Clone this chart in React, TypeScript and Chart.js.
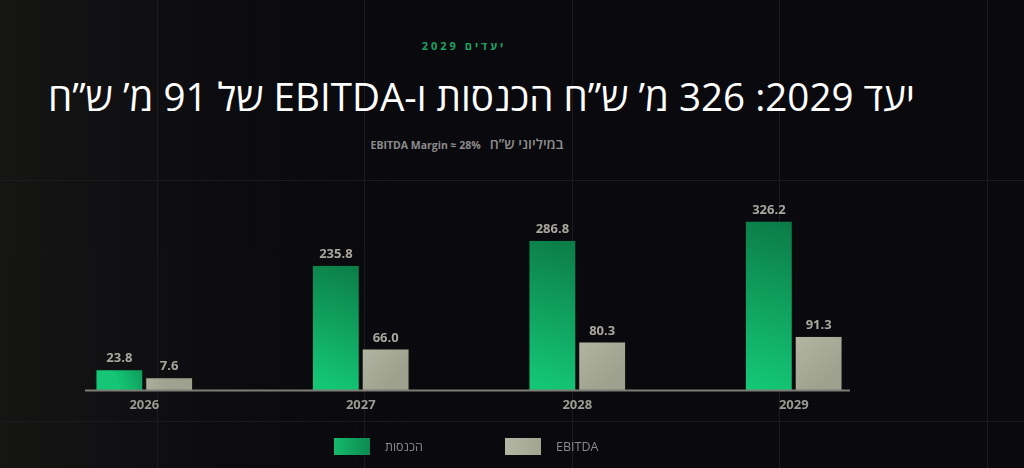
import React, { useEffect, useRef } from "react";
import { Chart, registerables } from "chart.js";

Chart.register(...registerables);

const categories = ["2026", "2027", "2028", "2029"];
const revenue = [23.8, 235.8, 286.8, 326.2];
const ebitda = [7.6, 66.0, 80.3, 91.3];
const seriesNames = ["הכנסות", "EBITDA"];

const kicker = "יעדים 2029";
const title = "יעד 2029: 326 מ’ ש”ח הכנסות ו-EBITDA של 91 מ’ ש”ח";
const subtitleHe = "במיליוני ש”ח";
const subtitleEn = "EBITDA Margin ≈ 28%";

const FONT = "'Open Sans', 'Noto Sans', sans-serif";
const AXIS_MIN = -19.2;
const AXIS_MAX = 350;

const greenStops = ["#0b7744", "#14c676"];
const greyStops = ["#babcaa", "#9fa18f"];

function barGradient(ctx: any, stops: string[], diagonalReverse: boolean) {
  const chart = ctx.chart;
  if (!chart.chartArea || !chart.scales || !chart.scales.y) return stops[1];
  const el = chart.getDatasetMeta(ctx.datasetIndex).data[ctx.dataIndex] as any;
  const yScale = chart.scales.y;
  const xScale = chart.scales.x;
  const value = ctx.raw as number;
  const top = yScale.getPixelForValue(value);
  const bottom = yScale.getPixelForValue(AXIS_MIN);
  const cx = el && typeof el.x === "number" && !isNaN(el.x) ? el.x : xScale.getPixelForValue(ctx.dataIndex);
  const g = chart.ctx.createLinearGradient(
    diagonalReverse ? cx + 24 : cx - 24,
    top,
    diagonalReverse ? cx - 24 : cx + 24,
    bottom
  );
  g.addColorStop(0, stops[0]);
  g.addColorStop(1, stops[1]);
  return g;
}

const valueLabels = {
  id: "valueLabels",
  afterDatasetsDraw(chart: any) {
    const ctx = chart.ctx;
    ctx.save();
    ctx.font = `bold 13px ${FONT}`;
    ctx.fillStyle = "#a8a89e";
    ctx.textAlign = "center";
    ctx.textBaseline = "alphabetic";
    chart.data.datasets.forEach((ds: any, di: number) => {
      const meta = chart.getDatasetMeta(di);
      meta.data.forEach((bar: any, i: number) => {
        ctx.fillText(Number(ds.data[i]).toFixed(1), bar.x, bar.y - 7);
      });
    });
    ctx.restore();
  },
};

const baseline = {
  id: "baseline",
  afterDatasetsDraw(chart: any) {
    const { ctx, chartArea } = chart;
    ctx.save();
    ctx.strokeStyle = "#7e7e76";
    ctx.lineWidth = 2;
    ctx.beginPath();
    ctx.moveTo(chartArea.left + 49, chartArea.bottom);
    ctx.lineTo(chartArea.right - 52, chartArea.bottom);
    ctx.stroke();
    ctx.restore();
  },
};

export default function App() {
  const canvasRef = useRef<HTMLCanvasElement | null>(null);

  useEffect(() => {
    document.body.style.margin = "0";
    const canvas = canvasRef.current;
    if (!canvas) return;
    const chart = new Chart(canvas, {
      type: "bar",
      data: {
        labels: categories,
        datasets: [
          {
            label: seriesNames[0],
            data: revenue,
            base: AXIS_MIN,
            backgroundColor: (c: any) => barGradient(c, greenStops, true),
            borderColor: "rgba(0,40,20,0.35)",
            borderWidth: 1,
            categoryPercentage: 0.46,
            barPercentage: 0.96,
          } as any,
          {
            label: seriesNames[1],
            data: ebitda,
            base: AXIS_MIN,
            backgroundColor: (c: any) => barGradient(c, greyStops, false),
            borderColor: "rgba(40,40,30,0.35)",
            borderWidth: 1,
            categoryPercentage: 0.46,
            barPercentage: 0.96,
          } as any,
        ],
      },
      options: {
        responsive: false,
        animation: false,
        devicePixelRatio: 1,
        layout: { padding: { left: 36, right: 122, top: 209, bottom: 48 } },
        plugins: {
          legend: { display: false },
          tooltip: { enabled: false },
        },
        scales: {
          x: {
            grid: { display: false, drawTicks: false },
            border: { display: false },
            ticks: {
              color: "#9b9b93",
              font: { family: FONT, size: 13, weight: "bold" },
              padding: 7,
            },
          },
          y: {
            display: false,
            min: AXIS_MIN,
            max: AXIS_MAX,
          },
        },
      },
      plugins: [valueLabels, baseline],
    });
    return () => chart.destroy();
  }, []);

  const vLines = [157, 364, 572, 779, 987];
  const hLines = [180, 421];

  return (
    <div
      style={{
        position: "fixed",
        left: 0,
        top: 0,
        width: 1024,
        height: 468,
        overflow: "hidden",
        background:
          "linear-gradient(90deg, #151513 0%, #111113 10%, #0c0c10 22%, #09090e 40%, #09090e 100%)",
        fontFamily: FONT,
      }}
    >
      {vLines.map((x) => (
        <div
          key={"v" + x}
          style={{ position: "absolute", left: x, top: 0, width: 1, height: 468, background: "#1b1b20" }}
        />
      ))}
      {hLines.map((y) => (
        <div
          key={"h" + y}
          style={{ position: "absolute", left: 0, top: y, width: 1024, height: 1, background: "#1b1b1f" }}
        />
      ))}
      <div
        dir="rtl"
        style={{
          position: "absolute",
          left: 0,
          width: 928,
          top: 38,
          textAlign: "center",
          color: "#1fa262",
          fontSize: 11,
          fontWeight: 700,
          letterSpacing: 3,
        }}
      >
        {kicker}
      </div>
      <div
        dir="rtl"
        style={{
          position: "absolute",
          right: 109,
          top: 73,
          color: "#ffffff",
          fontSize: 38.6,
          lineHeight: "46px",
          whiteSpace: "nowrap",
        }}
      >
        {title}
      </div>
      <div
        dir="rtl"
        style={{
          position: "absolute",
          left: 0,
          width: 934,
          top: 132,
          textAlign: "center",
          color: "#8c8c8a",
          whiteSpace: "nowrap",
        }}
      >
        <span style={{ fontSize: 14, fontWeight: 600 }}>{subtitleHe}</span>
        <span style={{ fontSize: 10.5, fontWeight: 700, marginRight: 9 }}>{subtitleEn}</span>
      </div>
      <canvas
        ref={canvasRef}
        width={1024}
        height={468}
        style={{ position: "absolute", left: 0, top: 0, width: 1024, height: 468 }}
      />
      {[
        { name: seriesNames[0], left: 334, color: "linear-gradient(90deg, #14ba6c, #0d8a50)" },
        { name: seriesNames[1], left: 505, color: "linear-gradient(90deg, #b3b6a2, #a2a590)" },
      ].map((item) => (
        <div key={item.name}>
          <div
            style={{
              position: "absolute",
              left: item.left,
              top: 438,
              width: 36,
              height: 17,
              background: item.color,
            }}
          />
          <div
            style={{
              position: "absolute",
              left: item.left + 51,
              top: 437,
              lineHeight: "19px",
              fontSize: 12.5,
              color: "#8a8a86",
              whiteSpace: "nowrap",
            }}
          >
            {item.name}
          </div>
        </div>
      ))}
    </div>
  );
}
